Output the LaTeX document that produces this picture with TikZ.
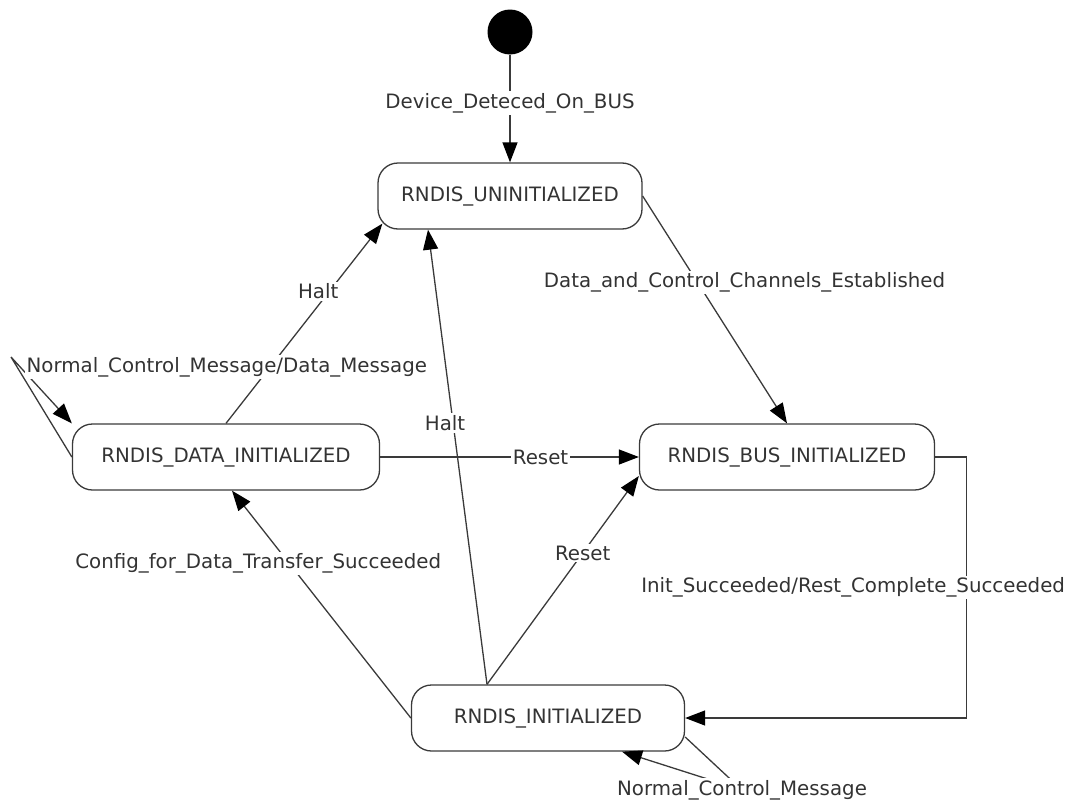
\documentclass[tikz,border=0pt]{standalone}
\usepackage{fontspec}
\setmainfont{DejaVu Sans}
\usepackage{tikz}
\usetikzlibrary{arrows.meta}
\usetikzlibrary{calc}
\definecolor{linec}{HTML}{3A3A3A}
\definecolor{textc}{HTML}{333333}
\tikzset{
	stbox/.style={draw=linec,line width=1.3pt,rounded corners=20pt,text=textc,
		font=\fontsize{19.8}{24}\selectfont,minimum height=66pt,inner sep=0pt},
	lbl/.style={fill=white,text=textc,inner sep=2pt,font=\fontsize{19.8}{24}\selectfont},
	trans/.style={draw=linec,line width=1.3pt,-{Triangle[length=20pt,width=15pt,black]}}
}
\begin{document}
\begin{tikzpicture}[x=1pt,y=-1pt]
	\useasboundingbox (0,0) rectangle (1068,803);
	\node (start) [circle,fill=black,minimum size=45pt,inner sep=0pt] at (510,32) {};
	\node (un) [stbox,minimum width=264pt] at (510,196) {RNDIS\_UNINITIALIZED};
	\node (data) [stbox,minimum width=307pt] at (226,457) {RNDIS\_DATA\_INITIALIZED};
	\node (bus) [stbox,minimum width=295pt] at (787,457) {RNDIS\_BUS\_INITIALIZED};
	\node (ini) [stbox,minimum width=273pt] at (548,718) {RNDIS\_INITIALIZED};
	\coordinate (dataloop) at (11,357);
	\coordinate (iniloop) at (742,790);
	
	\draw[trans] (start) -- node[lbl,pos=0.45] {Device\_Deteced\_On\_BUS} (un);
	\draw[trans] (un.east) -- node[lbl,pos=0.38,xshift=47pt] {Data\_and\_Control\_Channels\_Established} (bus.north);
	\draw[trans] (data.east) -- node[lbl,pos=0.62] {Reset} (bus.west);
	\draw[trans] (data.north) -- node[lbl,pos=0.66,xshift=-11pt] {Halt} ($(un.south west)+(5,-6)$);
	\draw[trans] ([xshift=-61pt]ini.north) -- node[lbl,pos=0.575,xshift=-8pt] {Halt} ([xshift=-82pt]un.south);
	\draw[trans] ([xshift=-61pt]ini.north) -- node[lbl,pos=0.63] {Reset} ([yshift=-19pt]bus.west);
	\draw[trans] (ini.west) -- node[lbl,pos=0.68,xshift=-31pt] {Config\_for\_Data\_Transfer\_Succeeded} ([xshift=6pt]data.south);
	\draw[trans] (bus.east) -- ++(31,0) |- node[lbl,pos=0.25,xshift=-113pt] {Init\_Succeeded/Rest\_Complete\_Succeeded} (ini.east);
	
	% self loops
	\draw[trans] ([yshift=-19pt]ini.east) -- (iniloop) node[lbl] {Normal\_Control\_Message} -- ([xshift=74pt]ini.south);
	\draw[trans] (data.west) -- (dataloop) node[lbl,anchor=west,xshift=13pt,yshift=-10pt] {Normal\_Control\_Message/Data\_Message} -- (data.north west);
\end{tikzpicture}
\end{document}
